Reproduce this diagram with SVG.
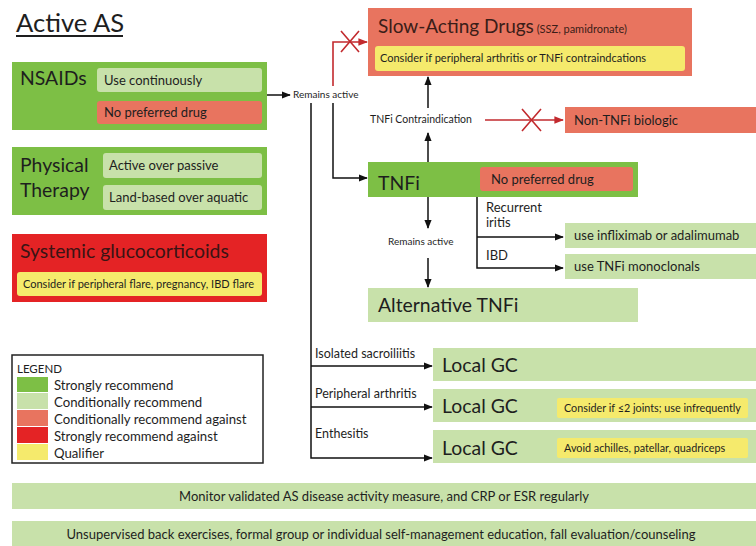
<svg xmlns="http://www.w3.org/2000/svg" width="756" height="546" viewBox="0 0 756 546">
<defs>
<style>
text{font-family:Lato,"Open Sans","Liberation Sans",sans-serif;fill:#1e1e1e}
.sg{fill:#7dbf45}
.cg{fill:#c8e1aa}
.ca{fill:#e8745f}
.sa{fill:#e42325}
.q{fill:#f5ea6c}
.big{font-size:19.4px}
.mid{font-size:13px}
.sm{font-size:11px}
.lbl{font-size:10px}
.lg{font-size:13.2px}
.k{stroke:#111;stroke-width:1.5;fill:none}
.r{stroke:#c22a2e;stroke-width:1.6;fill:none}
</style>
<marker id="ah" viewBox="0 0 10 10" refX="9" refY="5" markerWidth="6" markerHeight="6" orient="auto"><path d="M0,1 L10,5 L0,9 z" fill="#111"/></marker>
<marker id="ahr" viewBox="0 0 10 10" refX="9" refY="5" markerWidth="6" markerHeight="6" orient="auto"><path d="M0,1 L10,5 L0,9 z" fill="#c22a2e"/></marker>
</defs>
<rect width="756" height="546" fill="#ffffff"/>

<g id="title">
<text x="16" y="32" style="font-size:25.6px">Active AS</text>
<line x1="16" y1="36" x2="123" y2="36" stroke="#1e1e1e" stroke-width="1.8"/>
</g>

<g id="nsaids">
<rect class="sg" x="12" y="62" width="255" height="68"/>
<text class="big" x="20" y="85">NSAIDs</text>
<rect class="cg" x="97" y="68" width="165" height="24" rx="3"/>
<text class="mid" x="104" y="85">Use continuously</text>
<rect class="ca" x="97" y="101" width="165" height="23" rx="3"/>
<text class="mid" x="104" y="117">No preferred drug</text>
</g>

<g id="physical-therapy">
<rect class="sg" x="12" y="147" width="255" height="68"/>
<text class="big" x="20" y="172">Physical</text>
<text class="big" x="20" y="197">Therapy</text>
<rect class="cg" x="103" y="153" width="159" height="25" rx="3"/>
<text class="mid" x="109" y="170">Active over passive</text>
<rect class="cg" x="103" y="185" width="159" height="25" rx="3"/>
<text class="mid" x="109" y="202">Land-based over aquatic</text>
</g>

<g id="systemic-gc">
<rect class="sa" x="12" y="234" width="255" height="68"/>
<text class="big" x="20" y="258" style="fill:#3a1414">Systemic glucocorticoids</text>
<rect class="q" x="17" y="272" width="245" height="24" rx="3"/>
<text class="sm" x="23" y="288">Consider if peripheral flare, pregnancy, IBD flare</text>
</g>

<g id="legend">
<rect x="12" y="355" width="251" height="108" fill="#fff" stroke="#222" stroke-width="1.5"/>
<text x="17" y="373" style="font-size:11.5px">LEGEND</text>
<rect class="sg" x="17" y="377" width="31" height="15"/>
<text class="lg" x="54" y="390">Strongly recommend</text>
<rect class="cg" x="17" y="393" width="31" height="16"/>
<text class="lg" x="54" y="407">Conditionally recommend</text>
<rect class="ca" x="17" y="410" width="31" height="16"/>
<text class="lg" x="54" y="424">Conditionally recommend against</text>
<rect class="sa" x="17" y="427" width="31" height="16"/>
<text class="lg" x="54" y="441">Strongly recommend against</text>
<rect class="q" x="17" y="444" width="31" height="16"/>
<text class="lg" x="54" y="458">Qualifier</text>
</g>

<g id="remains-active-1">
<text x="293" y="98" class="lbl">Remains active</text>
</g>

<g id="slow-acting">
<rect class="ca" x="368" y="8" width="324" height="68"/>
<text x="378" y="33" style="font-size:19px;fill:#3b1d18">Slow-Acting Drugs<tspan style="font-size:11px"> (SSZ, pamidronate)</tspan></text>
<rect class="q" x="375" y="46" width="310" height="25" rx="3"/>
<text class="sm" x="380" y="62">Consider if peripheral arthritis or TNFi contraindcations</text>
</g>

<g id="tnfi-contra">
<text x="370" y="123" style="font-size:10.5px">TNFi Contraindication</text>
</g>

<g id="non-tnfi">
<rect class="ca" x="565" y="107" width="191" height="26"/>
<text x="574" y="125" style="font-size:13px">Non-TNFi biologic</text>
</g>

<g id="tnfi">
<rect class="sg" x="368" y="162" width="270" height="35"/>
<text class="big" x="378" y="190">TNFi</text>
<rect class="ca" x="480" y="167" width="153" height="24" rx="3"/>
<text class="mid" x="491" y="184">No preferred drug</text>
</g>

<g id="branch-labels">
<text x="486" y="212" class="mid">Recurrent</text>
<text x="486" y="227" class="mid">iritis</text>
<text x="486" y="260" class="mid">IBD</text>
<text x="388" y="245" class="lbl">Remains active</text>
</g>

<g id="infliximab">
<rect class="cg" x="565" y="223" width="191" height="25"/>
<text x="574" y="240" style="font-size:13px">use infliximab or adalimumab</text>
</g>

<g id="monoclonals">
<rect class="cg" x="565" y="254" width="191" height="25"/>
<text x="574" y="271" style="font-size:13px">use TNFi monoclonals</text>
</g>

<g id="alt-tnfi">
<rect class="cg" x="368" y="288" width="270" height="34"/>
<text class="big" x="378" y="312">Alternative TNFi</text>
</g>

<g id="gc-labels">
<text x="315" y="358" style="font-size:12.5px">Isolated sacroiliitis</text>
<text x="315" y="398" style="font-size:12.5px">Peripheral arthritis</text>
<text x="315" y="438" style="font-size:12.5px">Enthesitis</text>
</g>

<g id="local-gc-1">
<rect class="cg" x="433" y="348" width="323" height="33"/>
<text class="big" x="442" y="372">Local GC</text>
</g>
<g id="local-gc-2">
<rect class="cg" x="433" y="389" width="323" height="33"/>
<text class="big" x="442" y="413">Local GC</text>
<rect class="q" x="557" y="398" width="191" height="20" rx="2"/>
<text x="564" y="412" style="font-size:10.8px">Consider if ≤2 joints; use infrequently</text>
</g>
<g id="local-gc-3">
<rect class="cg" x="433" y="430" width="323" height="33"/>
<text class="big" x="442" y="455">Local GC</text>
<rect class="q" x="557" y="438" width="191" height="20" rx="2"/>
<text x="564" y="452" style="font-size:10.8px">Avoid achilles, patellar, quadriceps</text>
</g>

<g id="monitor">
<rect class="cg" x="12" y="483" width="744" height="26"/>
<text x="384" y="501" text-anchor="middle" style="font-size:13px">Monitor validated AS disease activity measure,  and CRP or ESR regularly</text>
</g>
<g id="unsupervised">
<rect class="cg" x="12" y="521" width="744" height="25"/>
<text x="381" y="539" text-anchor="middle" style="font-size:13px">Unsupervised back exercises, formal group or individual self-management education, fall evaluation/counseling</text>
</g>

<g id="connectors">
<path class="k" d="M267,95 H290" marker-end="url(#ah)"/>
<path class="r" d="M333,86 V42 H367" marker-end="url(#ahr)"/>
<path class="r" d="M341,31 L359,52 M359,31 L341,52"/>
<path class="k" d="M333,103 V178 H367" marker-end="url(#ah)"/>
<path class="k" d="M311,103 V458 H432" marker-end="url(#ah)"/>
<path class="k" d="M311,366 H432" marker-end="url(#ah)"/>
<path class="k" d="M311,407 H432" marker-end="url(#ah)"/>
<path class="k" d="M428,162 V133" marker-end="url(#ah)"/>
<path class="k" d="M428,108 V77" marker-end="url(#ah)"/>
<path class="r" d="M485,120 H563" marker-end="url(#ahr)"/>
<path class="r" d="M522,109 L541,131 M541,109 L522,131"/>
<path class="k" d="M428,197 V228" marker-end="url(#ah)"/>
<path class="k" d="M428,258 V287" marker-end="url(#ah)"/>
<path class="k" d="M477,197 V268 H563" marker-end="url(#ah)"/>
<path class="k" d="M477,237 H563" marker-end="url(#ah)"/>
</g>
</svg>
